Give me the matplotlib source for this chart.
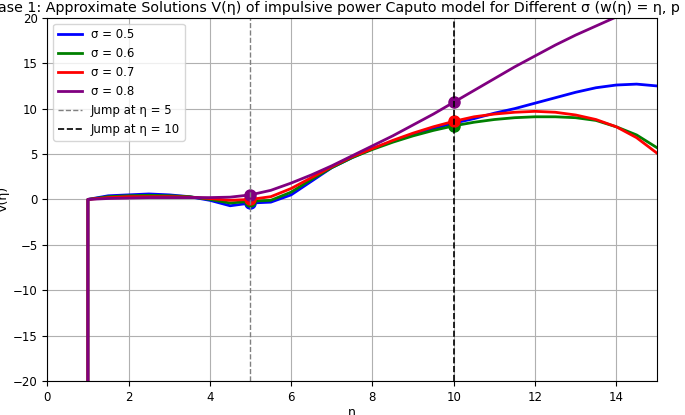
import numpy as np
import matplotlib

matplotlib.use("Agg")
import matplotlib.pyplot as plt

# eta grid (0.5 steps from 1 to 15); a leading point just left of 1 gives the drop
eta = np.arange(1.0, 15.01, 0.5)
eta_start = 0.999
v_start = -60.0

v_05 = [0, 0.4, 0.5, 0.6, 0.5, 0.3, -0.1, -0.7, -0.4, -0.3, 0.5, 2.0, 3.5, 4.6, 5.6,
        6.4, 7.2, 7.8, 8.4, 8.9, 9.5, 10.0, 10.6, 11.2, 11.8, 12.3, 12.6, 12.7, 12.5]
v_06 = [0, 0.3, 0.4, 0.45, 0.4, 0.3, 0.0, -0.4, -0.2, -0.1, 0.8, 2.2, 3.5, 4.6, 5.5,
        6.3, 7.0, 7.6, 8.1, 8.5, 8.8, 9.0, 9.1, 9.1, 9.0, 8.7, 8.0, 7.1, 5.7]
v_07 = [0, 0.2, 0.3, 0.3, 0.3, 0.25, 0.1, -0.1, 0.0, 0.3, 1.2, 2.4, 3.6, 4.7, 5.6,
        6.5, 7.3, 8.0, 8.6, 9.1, 9.4, 9.6, 9.7, 9.6, 9.3, 8.8, 8.0, 6.8, 5.1]
v_08 = [0, 0.1, 0.15, 0.2, 0.2, 0.2, 0.2, 0.25, 0.5, 1.0, 1.8, 2.7, 3.7, 4.8, 5.9,
        7.0, 8.2, 9.4, 10.7, 12.0, 13.3, 14.6, 15.8, 17.0, 18.1, 19.1, 20.1, 21.0, 21.9]

sigmas = [0.5, 0.6, 0.7, 0.8]
colors = ["blue", "green", "red", "purple"]
jumps = [5, 10]

fig, ax = plt.subplots(figsize=(6.85, 4.15), dpi=100)
for s, v, c in zip(sigmas, [v_05, v_06, v_07, v_08], colors):
    x = np.concatenate([[eta_start], eta])
    y = np.concatenate([[v_start], v])
    ax.plot(x, y, color=c, linewidth=2, label=f"σ = {s}")
    for j in jumps:
        ax.plot(j, np.interp(j, eta, v), "o", color=c, markersize=8)

ax.axvline(5, color="gray", linestyle="--", linewidth=1, label="Jump at η = 5")
ax.axvline(10, color="black", linestyle="--", linewidth=1.2, label="Jump at η = 10")

ax.set_xlim(0, 15)
ax.set_ylim(-20, 20)
ax.set_xlabel("η", fontsize=9, labelpad=2)
ax.set_ylabel("V(η)", fontsize=9, labelpad=2)
ax.tick_params(labelsize=8.5)
ax.set_title("Case 1: Approximate Solutions V(η) of impulsive power Caputo model for Different σ (w(η) = η, p = 2)",
             fontsize=10.3, pad=4)
ax.grid(True)
ax.legend(loc="upper left", fontsize=8.5)
fig.subplots_adjust(left=0.069, right=0.959, top=0.957, bottom=0.082)
fig.savefig("out.png", dpi=100)
